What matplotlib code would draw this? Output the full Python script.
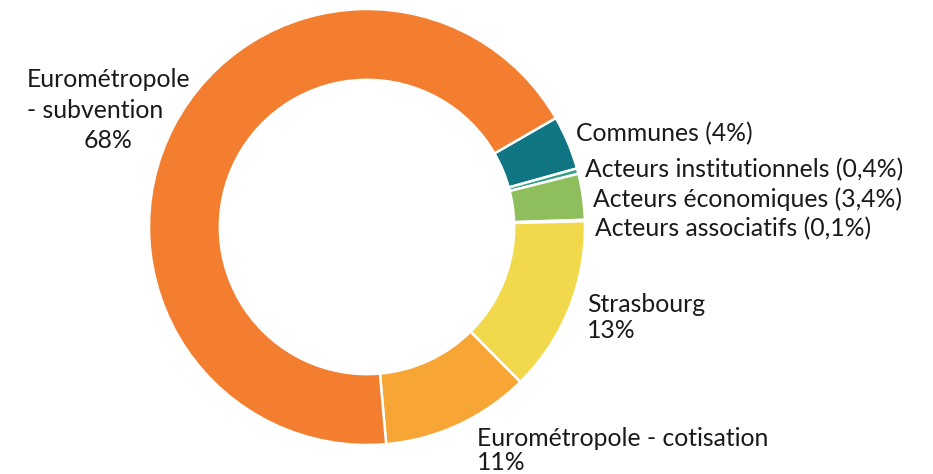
import matplotlib
matplotlib.use("Agg")
import matplotlib.pyplot as plt

labels = ["Communes", "Acteurs institutionnels", "Acteurs économiques",
          "Acteurs associatifs", "Strasbourg", "Eurométropole - cotisation",
          "Eurométropole - subvention"]
values = [4, 0.4, 3.4, 0.1, 13, 11, 68]
colors = ["#117683", "#33A186", "#8FBE5D", "#D4E07A", "#F2D94B", "#F7A635", "#F37E2F"]

W, H = 933, 474
cx, cy, R = 367, 227, 218

plt.rcParams['font.family'] = ['Lato', 'DejaVu Sans']
fig = plt.figure(figsize=(W / 100, H / 100), dpi=100)
ax = fig.add_axes([0, 0, 1, 1])
ax.pie(values, colors=colors, startangle=30, counterclock=False, radius=1,
       wedgeprops=dict(width=0.325, edgecolor="white", linewidth=1.8))
ax.set_xlim(-cx / R, (W - cx) / R)
ax.set_ylim(-(H - cy) / R, cy / R)
ax.set_aspect("equal")
ax.axis("off")

fs = 17.8
tc = "#1a1a1a"

def t(x, y, s, ha="left"):
    fig.text(x / W, 1 - y / H, s, ha=ha, va="center", fontsize=fs, color=tc)

t(27, 80, "Eurométropole")
t(27, 110, "- subvention")
t(108, 141, "68%", ha="center")
t(576, 134, "Communes (4%)")
t(585, 170, "Acteurs institutionnels (0,4%)")
t(593, 199, "Acteurs économiques (3,4%)")
t(595, 229, "Acteurs associatifs (0,1%)")
t(587, 305, "Strasbourg")
t(587, 331, "13%")
t(477, 438, "Eurométropole - cotisation")
t(477, 463, "11%")

fig.savefig("out.png", dpi=100, facecolor="white")
